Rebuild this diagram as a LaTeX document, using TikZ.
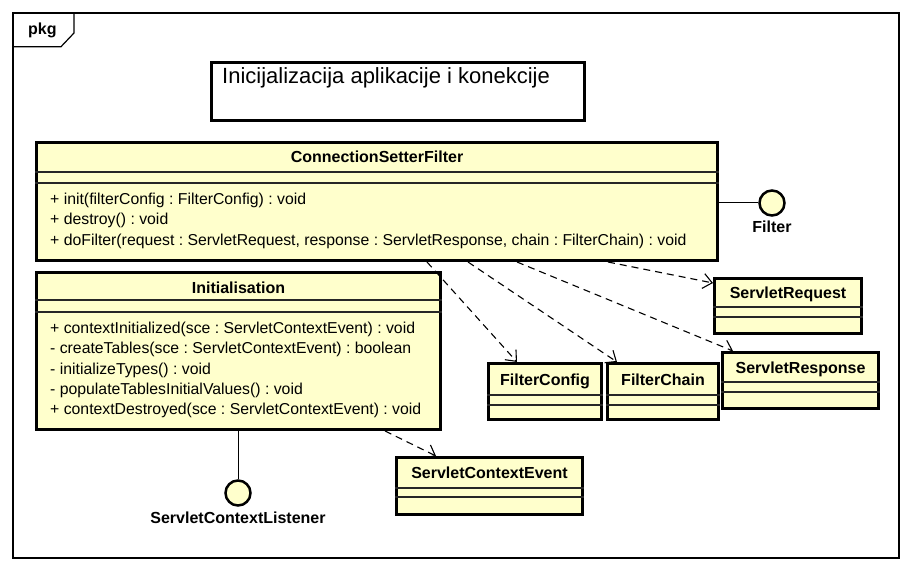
\documentclass[tikz,border=0pt]{standalone}
\usepackage{fontspec}
\setmainfont{Liberation Sans}
\usetikzlibrary{arrows.meta}
\definecolor{clsfill}{HTML}{FFFFCC}
\frenchspacing
\begin{document}
\begin{tikzpicture}[x=1pt,y=-1pt,
 clsbox/.style={draw, line width=3pt, fill=clsfill, inner sep=0pt, anchor=north west},
 clsname/.style={font=\bfseries\fontsize{16}{18}\selectfont, inner sep=0pt, text height=12pt, text depth=2pt},
 meth/.style={font=\fontsize{15.8}{18}\selectfont, inner sep=0pt, anchor=west, text height=12pt, text depth=2pt},
 sepline/.style={line width=1.2pt, draw=black!85},
 dep/.style={line width=1.1pt, dash pattern=on 7pt off 5pt, -{Straight Barb[length=9pt,width=15pt,line width=1.1pt]}},
 lolli/.style={circle, draw, line width=2.5pt, fill=clsfill, minimum size=25pt, inner sep=0pt},
 lbl/.style={font=\bfseries\fontsize{16}{18}\selectfont, inner sep=0pt, text height=12pt, text depth=2pt},
]
\useasboundingbox (0,0) rectangle (913,572);
% frame
\draw[line width=1.2pt] (13,13) rectangle (899,558);
\draw[line width=1.2pt] (13,46.7) -- (61,46.7) -- (74,33) -- (74,13);
\node[lbl, anchor=west] (pkg) at (28,30) {pkg};
% title
\node[draw, line width=3pt, fill=white, anchor=north west, minimum width=373pt, minimum height=58pt, inner sep=0pt] (title) at (210,61) {};
\node[font=\fontsize{22}{26}\selectfont, inner sep=0pt, anchor=west, text height=16pt, text depth=4pt] (titletext) at (222,78) {Inicijalizacija aplikacije i konekcije};

% ConnectionSetterFilter
\node[clsbox, minimum width=681pt, minimum height=118pt] (csf) at (35,141) {};
\node[clsname] (csft) at (csf.north |- 0,158) {ConnectionSetterFilter};
\draw[sepline] (csf.west |- 0,172) -- (csf.east |- 0,172);
\draw[sepline] (csf.west |- 0,183) -- (csf.east |- 0,183);
\node[meth] (csfm1) at (50,200) {+ init(filterConfig : FilterConfig) : void};
\node[meth] (csfm2) at (50,220) {+ destroy() : void};
\node[meth] (csfm3) at (50,240) {+ doFilter(request : ServletRequest, response : ServletResponse, chain : FilterChain) : void};

% Initialisation
\node[clsbox, minimum width=404pt, minimum height=157pt] (init) at (35,271) {};
\node[clsname] (initt) at (init.north |- 0,288) {Initialisation};
\draw[sepline] (init.west |- 0,300) -- (init.east |- 0,300);
\draw[sepline] (init.west |- 0,312) -- (init.east |- 0,312);
\node[meth] (initm1) at (50,328) {+ contextInitialized(sce : ServletContextEvent) : void};
\node[meth] (initm2) at (50,348) {- createTables(sce : ServletContextEvent) : boolean};
\node[meth] (initm3) at (50,369) {- initializeTypes() : void};
\node[meth] (initm4) at (50,389) {- populateTablesInitialValues() : void};
\node[meth] (initm5) at (50,409) {+ contextDestroyed(sce : ServletContextEvent) : void};

% ServletRequest
\node[clsbox, minimum width=147pt, minimum height=55pt] (sreq) at (713,277) {};
\node[clsname] (sreqt) at (sreq.north |- 0,293) {ServletRequest};
\draw[sepline] (sreq.west |- 0,307) -- (sreq.east |- 0,307);
\draw[sepline] (sreq.west |- 0,317) -- (sreq.east |- 0,317);

% FilterConfig
\node[clsbox, minimum width=113pt, minimum height=56pt] (fconfig) at (487,362) {};
\node[clsname] (fconfigt) at (fconfig.north |- 0,380) {FilterConfig};
\draw[sepline] (fconfig.west |- 0,395) -- (fconfig.east |- 0,395);
\draw[sepline] (fconfig.west |- 0,405) -- (fconfig.east |- 0,405);

% FilterChain
\node[clsbox, minimum width=111pt, minimum height=56pt] (fchain) at (606,362) {};
\node[clsname] (fchaint) at (fchain.north |- 0,380) {FilterChain};
\draw[sepline] (fchain.west |- 0,395) -- (fchain.east |- 0,395);
\draw[sepline] (fchain.west |- 0,405) -- (fchain.east |- 0,405);

% ServletResponse
\node[clsbox, minimum width=156pt, minimum height=56pt] (sresp) at (721,351) {};
\node[clsname] (srespt) at (sresp.north |- 0,368) {ServletResponse};
\draw[sepline] (sresp.west |- 0,382) -- (sresp.east |- 0,382);
\draw[sepline] (sresp.west |- 0,392) -- (sresp.east |- 0,392);

% ServletContextEvent
\node[clsbox, minimum width=186pt, minimum height=57pt] (sce) at (395,456) {};
\node[clsname] (scet) at (sce.north |- 0,473) {ServletContextEvent};
\draw[sepline] (sce.west |- 0,488) -- (sce.east |- 0,488);
\draw[sepline] (sce.west |- 0,497) -- (sce.east |- 0,497);

% lollipops
\node[lolli] (filter) at (772,203) {};
\node[lbl] (filterlbl) at (772,228) {Filter};
\draw[line width=1pt] (csf.east |- filter.west) -- (filter.west);
\node[lolli] (scl) at (238,493) {};
\node[lbl] (scllbl) at (238,518) {ServletContextListener};
\draw[line width=1pt] (scl.north) -- (scl.north |- init.south);

% dependencies
\draw[dep] ([xshift=573pt]csf.south west) -- ([yshift=-6pt]sreq.north west);
\draw[dep] ([xshift=482pt]csf.south west) -- ([xshift=12pt]sresp.north west);
\draw[dep] ([xshift=433pt]csf.south west) -- ([xshift=11pt]fchain.north west);
\draw[dep] ([xshift=392pt]csf.south west) -- ([xshift=30pt]fconfig.north west);
\draw[dep] ([xshift=350pt]init.south west) -- ([xshift=41pt]sce.north west);
\end{tikzpicture}
\end{document}
